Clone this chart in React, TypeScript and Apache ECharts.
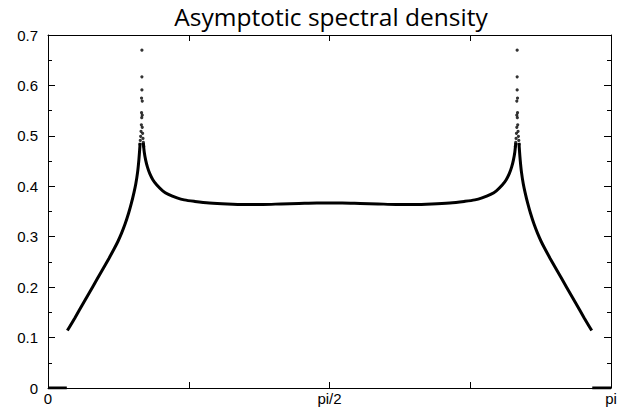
import React, { useEffect, useRef } from 'react';
import * as echarts from 'echarts';

const chartTitle = 'Asymptotic spectral density';
const xTickLabels = ['0', '', 'pi/2', '', 'pi'];
const yTickLabels = ['0', '0.1', '0.2', '0.3', '0.4', '0.5', '0.6', '0.7'];

// zero-valued points near both ends
const zeroLeft: number[][] = [[0, 0], [0.105, 0]];
const zeroRight: number[][] = [[3.037, 0], [3.1416, 0]];

// left outer branch (rising to first peak)
const leftBranch: number[][] = [
  [0.108, 0.114], [0.15, 0.139], [0.2, 0.17], [0.25, 0.201], [0.3, 0.232],
  [0.34, 0.257], [0.37, 0.2765], [0.39, 0.2905], [0.41, 0.3065], [0.43, 0.325],
  [0.45, 0.347], [0.465, 0.366], [0.48, 0.388], [0.49, 0.405], [0.5, 0.428],
  [0.507, 0.452], [0.512, 0.475], [0.514, 0.486],
];

// middle part between the two peaks
const middleBranch: number[][] = [
  [0.532, 0.486], [0.537, 0.468], [0.545, 0.452], [0.555, 0.438], [0.568, 0.425],
  [0.585, 0.413], [0.606, 0.403], [0.64, 0.391], [0.672, 0.384], [0.72, 0.377],
  [0.76, 0.373], [0.82, 0.37], [0.9, 0.367], [1.0, 0.365], [1.1, 0.364],
  [1.2, 0.364], [1.3, 0.365], [1.4, 0.366], [1.5, 0.367], [1.571, 0.367],
  [1.642, 0.367], [1.742, 0.366], [1.842, 0.365], [1.942, 0.364], [2.042, 0.364],
  [2.142, 0.365], [2.242, 0.367], [2.322, 0.37], [2.382, 0.373], [2.422, 0.377],
  [2.47, 0.384], [2.502, 0.391], [2.536, 0.403], [2.557, 0.413], [2.574, 0.425],
  [2.587, 0.438], [2.597, 0.452], [2.605, 0.468], [2.61, 0.486],
];

// right outer branch (falling from second peak)
const rightBranch: number[][] = [
  [2.628, 0.486], [2.63, 0.475], [2.635, 0.452], [2.642, 0.428], [2.652, 0.405],
  [2.662, 0.388], [2.677, 0.366], [2.692, 0.347], [2.712, 0.325], [2.732, 0.3065],
  [2.752, 0.2905], [2.772, 0.2765], [2.802, 0.257], [2.842, 0.232], [2.892, 0.201],
  [2.942, 0.17], [2.992, 0.139], [3.034, 0.114],
];

// sparse points at the two peaks
const leftPeakDots: number[][] = [
  [0.524, 0.67], [0.524, 0.617], [0.524, 0.591], [0.522, 0.575], [0.526, 0.569],
  [0.522, 0.546], [0.526, 0.541], [0.523, 0.536], [0.521, 0.522], [0.526, 0.517],
  [0.519, 0.509], [0.528, 0.505], [0.517, 0.499], [0.53, 0.495], [0.515, 0.491],
  [0.532, 0.487], [0.513, 0.483], [0.534, 0.479],
];
const rightPeakDots: number[][] = [
  [2.618, 0.67], [2.618, 0.617], [2.618, 0.591], [2.62, 0.575], [2.616, 0.569],
  [2.62, 0.546], [2.616, 0.541], [2.619, 0.536], [2.621, 0.522], [2.616, 0.517],
  [2.623, 0.509], [2.614, 0.505], [2.625, 0.499], [2.612, 0.495], [2.627, 0.491],
  [2.61, 0.487], [2.629, 0.483], [2.608, 0.479],
];

const axisFont = 'Liberation Sans, Arial, sans-serif';

function lineSeries(data: number[][]) {
  return {
    type: 'line',
    data,
    smooth: 0.3,
    showSymbol: false,
    symbol: 'none',
    lineStyle: { color: '#000', width: 3 },
    silent: true,
  };
}

function dotSeries(data: number[][]) {
  return {
    type: 'scatter',
    data,
    symbol: 'circle',
    symbolSize: 3.2,
    itemStyle: { color: '#000' },
    silent: true,
  };
}

export default function App() {
  const ref = useRef<HTMLDivElement>(null);

  useEffect(() => {
    if (!ref.current) return;
    const chart = echarts.init(ref.current, undefined, { renderer: 'svg' });
    const xStep = Math.PI / 4;
    const baseX = {
      type: 'value',
      min: 0,
      max: Math.PI,
      interval: xStep,
      axisLine: { show: true, onZero: false, lineStyle: { color: '#000', width: 1 } },
      axisTick: { show: true, inside: true, length: 6, lineStyle: { color: '#000' } },
      splitLine: { show: false },
    };
    const baseY = {
      type: 'value',
      min: 0,
      max: 0.7,
      interval: 0.1,
      axisLine: { show: true, onZero: false, lineStyle: { color: '#000', width: 1 } },
      axisTick: { show: true, inside: true, length: 7, lineStyle: { color: '#000' } },
      minorTick: { show: true, splitNumber: 2, length: 4, lineStyle: { color: '#000' } },
      splitLine: { show: false },
    };
    chart.setOption({
      animation: false,
      backgroundColor: '#fff',
      graphic: [
        {
          type: 'text',
          x: 331,
          y: 16,
          style: {
            text: chartTitle,
            fill: '#000',
            font: '24.5px "Open Sans", sans-serif',
            align: 'center',
            verticalAlign: 'middle',
            textAlign: 'center',
            textVerticalAlign: 'middle',
          },
        },
      ],
      grid: { left: 48, right: 13, top: 35, bottom: 22 },
      xAxis: [
        {
          ...baseX,
          position: 'bottom',
          axisLabel: {
            show: true,
            color: '#000',
            fontFamily: axisFont,
            fontSize: 15,
            margin: 3,
            formatter: (v: number) => xTickLabels[Math.round(v / xStep)] ?? '',
          },
        },
        { ...baseX, position: 'top', axisLabel: { show: false } },
      ],
      yAxis: [
        {
          ...baseY,
          position: 'left',
          axisLabel: {
            show: true,
            color: '#000',
            fontFamily: axisFont,
            fontSize: 15,
            margin: 10,
            formatter: (v: number) => yTickLabels[Math.round(v * 10)] ?? '',
          },
        },
        { ...baseY, position: 'right', axisLabel: { show: false } },
      ],
      series: [
        lineSeries(zeroLeft),
        lineSeries(zeroRight),
        lineSeries(leftBranch),
        lineSeries(middleBranch),
        lineSeries(rightBranch),
        dotSeries(leftPeakDots),
        dotSeries(rightPeakDots),
      ],
    });
    return () => chart.dispose();
  }, []);

  return (
    <div
      ref={ref}
      style={{ position: 'fixed', left: 0, top: 0, width: 624, height: 410, background: '#fff' }}
    />
  );
}
